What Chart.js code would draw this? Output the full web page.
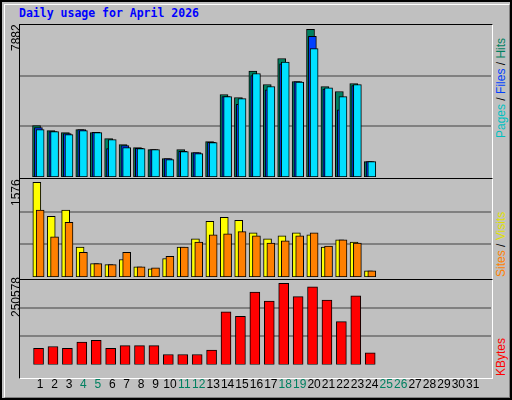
<!DOCTYPE html>
<html><head><meta charset="utf-8">
<script src="https://cdn.jsdelivr.net/npm/chart.js@4"></script>
<style>
html,body{margin:0;padding:0;background:#fff}
#frame{position:absolute;left:0;top:0;width:508px;height:396px;background:#c0c0c0;border:2px solid #000;}
#inner{position:absolute;left:2px;top:2px;width:504px;height:392px;border-top:1px solid #fff;border-left:1px solid #fff;border-right:1px solid #808080;border-bottom:1px solid #808080}
.panel{position:absolute;left:19px;width:472px;border:1px solid #000;border-right-color:#fff;border-bottom-color:#fff}
canvas{position:absolute}
.t{position:absolute;font-family:"Liberation Sans",sans-serif;white-space:nowrap}
.rot{transform-origin:0 0;transform:rotate(-90deg)}
</style></head><body>
<div id="frame"><div id="inner"></div></div>
<div class="t" style="left:19px;top:6px;color:#0000ff;font-weight:bold;font-size:11.5px;font-family:'DejaVu Sans Mono',monospace">Daily usage for April 2026</div>
<div class="panel" style="top:24px;height:153px"></div>
<div class="panel" style="top:178px;height:100px"></div>
<div class="panel" style="top:279px;height:98px"></div>
<canvas id="c1" style="left:20px;top:25px;width:471px;height:152px"></canvas>
<canvas id="c2" style="left:20px;top:179px;width:471px;height:98px"></canvas>
<canvas id="c3" style="left:20px;top:280px;width:471px;height:117px"></canvas>
<div class="t rot" style="left:9px;top:51px;font-size:12px;color:#000">7882</div>
<div class="t rot" style="left:9px;top:206px;font-size:12px;color:#000">1576</div>
<div class="t rot" style="left:9px;top:317px;font-size:12px;color:#000">250578</div>
<div class="t rot" style="left:494px;top:138px;font-size:12px"><span style="color:#00c0c0">Pages</span><span style="color:#000"> / </span><span style="color:#0040ff">Files</span><span style="color:#000"> / </span><span style="color:#008060">Hits</span></div>
<div class="t rot" style="left:494px;top:277px;font-size:12px"><span style="color:#ff8000">Sites</span><span style="color:#000"> / </span><span style="color:#e0e000">Visits</span></div>
<div class="t rot" style="left:494px;top:376px;font-size:12px;color:#ff0000">KBytes</div>
<script>
const days=[1,2,3,4,5,6,7,8,9,10,11,12,13,14,15,16,17,18,19,20,21,22,23,24];
const hits=[2746,2478,2372,2532,2372,2050,1730,1569,1462,981,1462,1302,1890,4404,4244,5652,4939,6330,5100,7882,4832,4565,4993,820];
const files=[2640,2425,2318,2532,2390,1515,1676,1533,1462,981,1373,1302,1855,4297,3887,5418,4654,6045,5100,7508,4690,3585,4885,820];
const pages=[2532,2425,2265,2478,2372,1997,1569,1515,1462,927,1355,1248,1837,4297,4190,5528,4832,6134,5064,6865,4761,4297,4939,820];
const visits=[1576,1011,1113,497,223,206,291,171,137,308,497,634,925,994,942,737,634,685,737,702,497,617,582,103];
const sites=[1113,668,908,411,223,206,411,171,154,343,497,582,702,720,754,685,565,600,685,737,514,617,565,103];
const kbytes=[50298,55785,50298,69502,74989,50298,58528,58528,58528,31093,31093,31093,44811,162781,149064,223138,195703,250578,209421,239599,198447,132603,212164,36580];
const dayLabels=Array.from({length:31},(_,i)=>String(i+1));
const weekend=[4,5,11,12,18,19,25,26];

function pts(arr,off){return arr.map((v,i)=>({x:days[i]+off,y:v}));}
function ds(arr,off,color,w,order){return {data:pts(arr,off),backgroundColor:color,borderColor:'#000',borderWidth:1,borderSkipped:false,barThickness:w,grouped:false,order:order};}
function opts(max,showX){
  return {responsive:false,animation:false,devicePixelRatio:1,
    layout:{padding:0},
    plugins:{legend:{display:false},tooltip:{enabled:false}},
    scales:{
      x:{type:'linear',min:0.13,max:31.74,display:showX,
        grid:{display:false},border:{display:false},
        afterBuildTicks:a=>{a.ticks=dayLabels.map((_,i)=>({value:i+1}));},
        ticks:{autoSkip:false,maxRotation:0,padding:5,font:{family:'Liberation Sans',size:12},
          color:c=>weekend.includes(c.tick.value)?'#008060':'#000',
          callback:v=>dayLabels[v-1]}},
      y:{min:0,max:max,display:true,border:{display:false},
        afterFit:a=>{a.width=0;},
        afterBuildTicks:a=>{a.ticks=[{value:max*0.333},{value:max*0.667}];},
        ticks:{display:false},grid:{color:'#808080',lineWidth:2,drawTicks:false}}
    }};
}
function mk(id,w,h,datasets,max,showX){
  const c=document.getElementById(id);c.width=w;c.height=h;
  new Chart(c,{type:'bar',data:{datasets},options:opts(max,showX)});
}
mk('c1',471,152,[ds(hits,-0.25,'#008060',8,2),ds(files,-0.12,'#0040ff',8,1),ds(pages,0,'#00e0ff',8,0)],7882*1.03,false);
mk('c2',471,98,[ds(visits,-0.23,'#ffff00',8,1),ds(sites,0,'#ff8000',8,0)],1576*1.035,false);
mk('c3',471,117,[ds(kbytes,-0.11,'#ff0000',10,0)],250578*1.04,true);
</script>
</body></html>
